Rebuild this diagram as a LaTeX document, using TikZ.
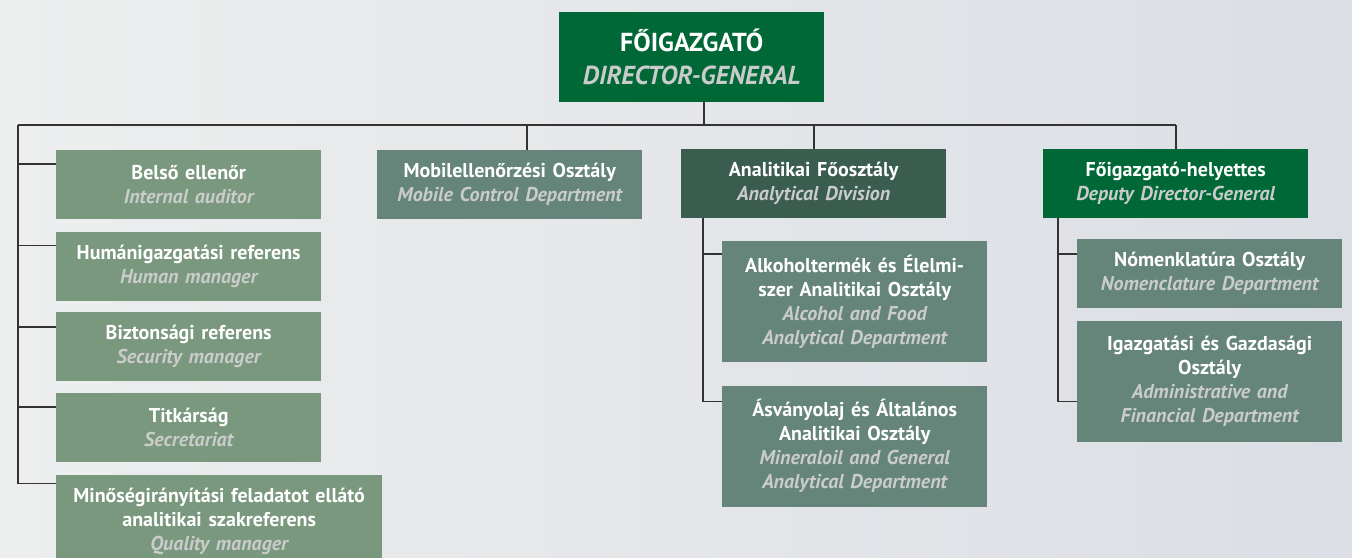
\documentclass[tikz,border=0pt]{standalone}
\usepackage{fontspec}
\setmainfont{PT Sans}
\usetikzlibrary{positioning,calc}

\definecolor{chiefgreen}{HTML}{006837}
\definecolor{divgreen}{HTML}{3B5D50}
\definecolor{deptgreen}{HTML}{66857A}
\definecolor{staffgreen}{HTML}{7A987E}
\definecolor{subgray}{HTML}{C9CCCB}
\definecolor{linegray}{HTML}{333333}
\definecolor{bgleft}{HTML}{EDEEEE}
\definecolor{bgright}{HTML}{DBDEE4}

\newcommand{\engtext}[1]{{\itshape\color{subgray}#1}}

\tikzset{
  orgbox/.style={anchor=north west, minimum width=265pt, minimum height=69pt, inner sep=0pt,
    text width=259pt, align=center, text=white, font=\fontsize{20}{24}\selectfont\bfseries},
  chief/.style={orgbox, fill=chiefgreen},
  division/.style={orgbox, fill=divgreen},
  dept/.style={orgbox, fill=deptgreen},
  staff/.style={orgbox, fill=staffgreen},
  orgline/.style={draw=linegray, line width=1.6pt}
}

\begin{document}
\begin{tikzpicture}[x=1pt,y=-1pt]
% Background
\fill[left color=bgleft, right color=bgright] (0,0) rectangle (1352,557);
\useasboundingbox (0,0) rectangle (1352,557);
% Boxes
\node[chief, minimum height=90pt, font=\fontsize{26}{33}\selectfont\bfseries] (dg) at (559,12) {FŐIGAZGATÓ\\\engtext{DIRECTOR-GENERAL}};

\node[staff] (belso) at (56,150) {Belső ellenőr\\\engtext{Internal auditor}};
\node[staff, below=12pt of belso] (human) {Humánigazgatási referens\\\engtext{Human manager}};
\node[staff, below=11pt of human] (bizt) {Biztonsági referens\\\engtext{Security manager}};
\node[staff, below=12pt of bizt] (titk) {Titkárság\\\engtext{Secretariat}};
\node[staff, below=12pt of titk.south west, anchor=north west, minimum width=326pt, text width=320pt, minimum height=94pt] (minos) {Minőségirányítási feladatot ellátó\\analitikai szakreferens\\\engtext{Quality manager}};

\node[dept] (mobil) at (377,150) {Mobilellenőrzési Osztály\\\engtext{Mobile Control Department}};

\node[division] (ana) at (681,149) {Analitikai Főosztály\\\engtext{Analytical Division}};
\node[dept, minimum height=121pt] (alk) at (722,241) {Alkoholtermék és Élelmi-\\szer Analitikai Osztály\\\engtext{Alcohol and Food\\Analytical Department}};
\node[dept, minimum height=121pt, below=23pt of alk] (asv) {Ásványolaj és Általános\\Analitikai Osztály\\\engtext{Mineraloil and General\\Analytical Department}};

\node[chief] (dep) at (1043,149) {Főigazgató-helyettes\\\engtext{Deputy Director-General}};
\node[dept] (nom) at (1077,239) {Nómenklatúra Osztály\\\engtext{Nomenclature Department}};
\node[dept, minimum height=121pt, below=12pt of nom] (igaz) {Igazgatási és Gazdasági\\Osztály\\\engtext{Administrative and\\Financial Department}};

% Lines
\coordinate (busL) at (18,125);
\coordinate (busR) at (dep.north |- busL);
\coordinate (dgfoot) at ([xshift=12.5pt]dg.south);
\coordinate (mobtop) at ([xshift=17.5pt]mobil.north);
\coordinate (anafoot) at ([xshift=22pt]ana.south west);
\coordinate (depfoot) at ([xshift=15pt]dep.south west);

\draw[orgline] (busL) -- (busR);
\draw[orgline] (dgfoot) -- (dgfoot |- busL);
\draw[orgline] (mobtop |- busL) -- (mobtop);
\draw[orgline] (ana.north |- busL) -- (ana.north);
\draw[orgline] (busR) -- (dep.north);

\draw[orgline] (busL) |- ([yshift=-14pt]belso.north west);
\draw[orgline] (busL) |- ([yshift=-14pt]human.north west);
\draw[orgline] (busL) |- ([yshift=-15pt]bizt.north west);
\draw[orgline] (busL) |- ([yshift=-14pt]titk.north west);
\draw[orgline] (busL) |- ([yshift=-9pt]minos.north west);

\draw[orgline] (anafoot) |- ([yshift=-13pt]alk.north west);
\draw[orgline] (anafoot) |- ([yshift=-16pt]asv.north west);

\draw[orgline] (depfoot) |- ([yshift=-15pt]nom.north west);
\draw[orgline] (depfoot) |- ([yshift=-81pt]igaz.north west);
\end{tikzpicture}
\end{document}
